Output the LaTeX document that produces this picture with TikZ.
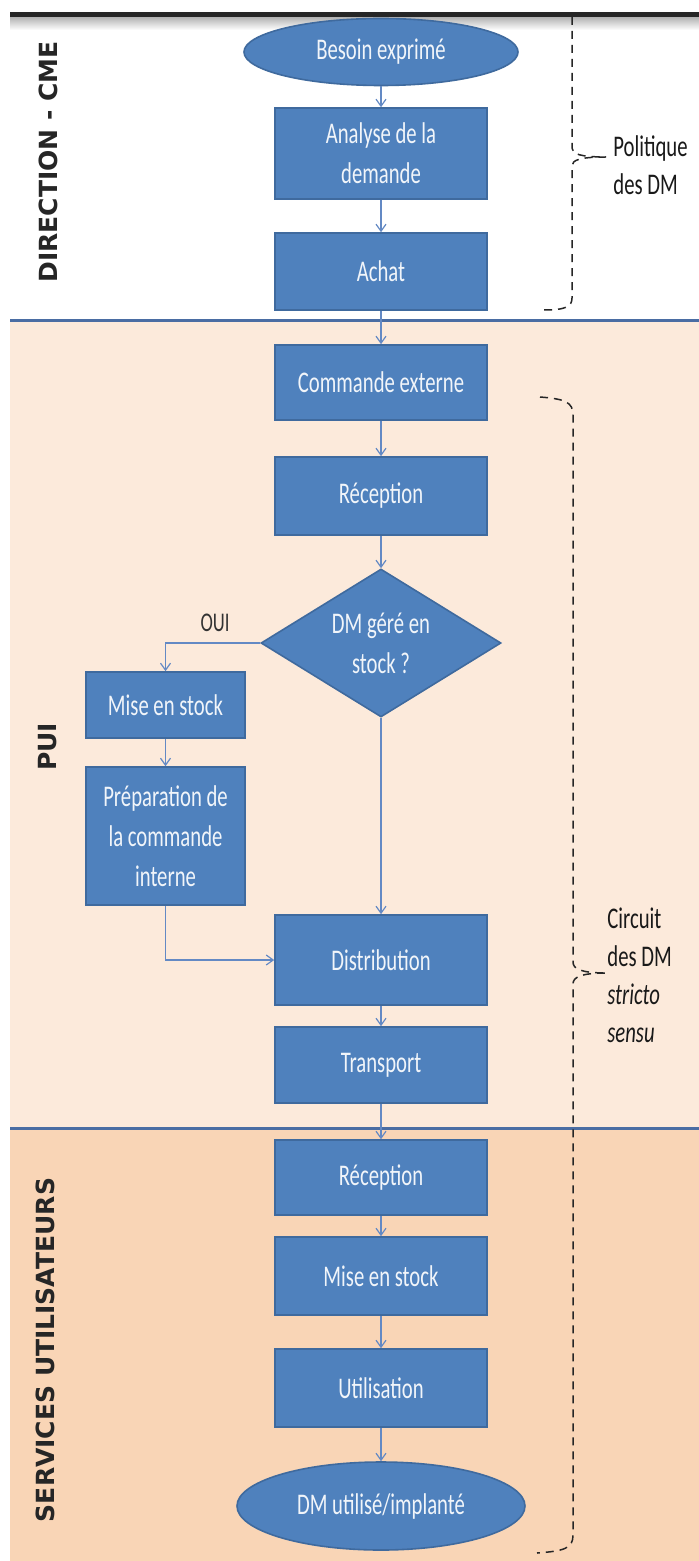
\documentclass[tikz,border=0pt]{standalone}
\usepackage{fontspec}
\setmainfont{Carlito}[FakeStretch=0.69]
\newfontfamily\lanefont{DejaVu Sans}
\usepackage{tikz}
\usetikzlibrary{shapes.geometric,arrows.meta}
\definecolor{boxblue}{HTML}{4F81BD}
\definecolor{boxedge}{HTML}{3F6A9E}
\definecolor{flowblue}{HTML}{6389C4}
\definecolor{sepblue}{HTML}{4A6DA3}
\definecolor{puipeach}{HTML}{FCEADB}
\definecolor{servpeach}{HTML}{F9D5B6}

\begin{document}
\begin{tikzpicture}[
  x=0.5pt, y=-0.5pt,
  every node/.style = {inner sep=0pt, align=center},
  stepbox/.style = {shape=rectangle, draw=boxedge, line width=0.8pt, fill=boxblue,
    text=white!92!boxblue, font=\fontsize{15pt}{20pt}\selectfont, minimum width=106pt},
  endcap/.style = {stepbox, shape=ellipse},
  choice/.style = {stepbox, shape=diamond, shape aspect=1.6},
  flow/.style = {draw=flowblue, line width=0.6pt, -{Straight Barb[length=3.5pt,width=5pt]}},
  lanetitle/.style = {rotate=90, text=black!85, font=\lanefont\bfseries\fontsize{12.5pt}{15pt}\selectfont},
  bracket/.style = {draw=black!85, line width=0.75pt, dash pattern=on 4pt off 3pt},
  note/.style = {anchor=west, align=left, text=black!90, font=\fontsize{15pt}{19pt}\selectfont}
]
  \useasboundingbox (0,0) rectangle (699,1561);
  \fill[white] (0,0) rectangle (699,1561);
  \fill[puipeach] (10,321) rectangle (699,1128);
  \fill[servpeach] (10,1128) rectangle (699,1561);
  \shade[top color=black!30, bottom color=white] (10,17) rectangle (699,30);
  \fill[black!85] (10,12) rectangle (699,17);
  \draw[sepblue, line width=1.5pt] (10,321) -- (699,321);
  \draw[sepblue, line width=1.5pt] (10,1128) -- (699,1128);

  \node[lanetitle] (lanecme) at (48,162) {DIRECTION - CME};
  \node[lanetitle] (lanepui) at (48,747) {PUI};
  \node[lanetitle] (laneserv) at (45,1350) {SERVICES UTILISATEURS};

  \node[endcap, minimum width=137pt, minimum height=33.5pt] (need) at (381,52) {Besoin exprimé};
  \node[stepbox, minimum height=45.5pt] (analyse) at (381,153.5) {Analyse de la\\demande};
  \node[stepbox, minimum height=38.5pt] (achat) at (381,271.5) {Achat};
  \node[stepbox, minimum height=37.5pt] (cmdext) at (381,382.5) {Commande externe};
  \node[stepbox, minimum height=39pt] (recep) at (381,496) {Réception};
  \node[choice, minimum width=120pt, minimum height=74pt] (instock) at (381,643) {DM géré en\\stock ?};
  \node[stepbox, minimum width=79.5pt, minimum height=33pt] (store) at (165.5,705) {Mise en stock};
  \node[stepbox, minimum width=79.5pt, minimum height=69pt] (prep) at (165.5,836) {Préparation de\\la commande\\interne};
  \node[stepbox, minimum height=45pt] (distrib) at (381,960) {Distribution};
  \node[stepbox, minimum height=38pt] (transp) at (381,1065) {Transport};
  \node[stepbox, minimum height=37.5pt] (recep2) at (381,1177.5) {Réception};
  \node[stepbox, minimum height=39pt] (store2) at (381,1276) {Mise en stock};
  \node[stepbox, minimum height=39pt] (use) at (381,1388) {Utilisation};
  \node[endcap, minimum width=144pt, minimum height=44pt] (done) at (381,1506) {DM utilisé/implanté};
  \node[text=black!80, font=\fontsize{13.5pt}{16pt}\selectfont] (yes) at (215,623) {OUI};

  \draw[flow] (need) -- (analyse);
  \draw[flow] (analyse) -- (achat);
  \draw[flow] (achat) -- (cmdext);
  \draw[flow] (cmdext) -- (recep);
  \draw[flow] (recep) -- (instock);
  \draw[flow] (instock.west) -| (store.north);
  \draw[flow] (store) -- (prep);
  \draw[flow] (prep.south) |- (distrib.west);
  \draw[flow] (instock.south) -- (distrib);
  \draw[flow] (distrib) -- (transp);
  \draw[flow] (transp) -- (recep2);
  \draw[flow] (recep2) -- (store2);
  \draw[flow] (store2) -- (use);
  \draw[flow] (use) -- (done);

  \node[note] (policy) at (613,165) {Politique\\des DM};
  \node[note] (circuit) at (607,975) {Circuit\\des DM\\\textit{stricto}\\\textit{sensu}};
  \draw[bracket] (572,17) -- (572,148) .. controls (572,154) and (580,157) .. (606,157)
    .. controls (580,157) and (572,160) .. (572,166) -- (572,298)
    .. controls (572,307) and (565,310) .. (543,310);
  \draw[bracket] (540,397) .. controls (565,399) and (573,402) .. (573,415) -- (573,962)
    .. controls (573,969) and (581,973) .. (607,973)
    .. controls (581,973) and (573,977) .. (573,984) -- (573,1535)
    .. controls (573,1548) and (565,1551) .. (537,1553);
\end{tikzpicture}
\end{document}
